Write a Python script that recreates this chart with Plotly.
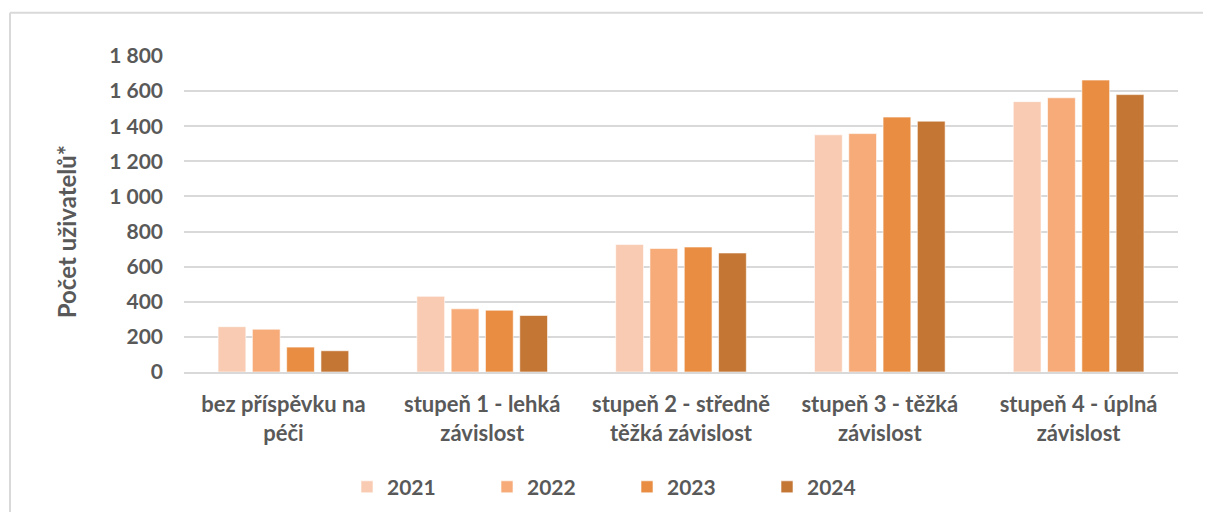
import plotly.graph_objects as go

categories = [
    "bez příspěvku na<br>péči",
    "stupeň 1 - lehká<br>závislost",
    "stupeň 2 - středně<br>těžká závislost",
    "stupeň 3 - těžká<br>závislost",
    "stupeň 4 - úplná<br>závislost",
]
years = ["2021", "2022", "2023", "2024"]
values_2021 = [258, 431, 726, 1351, 1540]
values_2022 = [244, 360, 704, 1358, 1562]
values_2023 = [142, 352, 712, 1452, 1663]
values_2024 = [121, 322, 678, 1429, 1580]
y_ticks = [0, 200, 400, 600, 800, 1000, 1200, 1400, 1600, 1800]

colors = ["#F8CBB2", "#F6AB79", "#E88D42", "#C47634"]
text_color = "#595959"
grid_color = "#D9D9D9"

fig = go.Figure()
for year, vals, col in zip(years, [values_2021, values_2022, values_2023, values_2024], colors):
    fig.add_trace(go.Bar(
        x=categories,
        y=vals,
        name=year,
        marker=dict(color=col, line=dict(color="rgba(255,255,255,0.6)", width=1)),
    ))

# the page body adds an 8px offset, so plot area in figure px: x 176..1170, y 48..369
L, R, T, B = 176, 41, 48, 143
pw, ph = 1211 - L - R, 512 - T - B

fig.update_layout(
    width=1211,
    height=512,
    margin=dict(l=L, r=R, t=T, b=B),
    paper_bgcolor="white",
    plot_bgcolor="white",
    barmode="group",
    bargap=0.31,
    bargroupgap=0.19,
    separators=", ",
    font=dict(family="Lato", size=21, color=text_color, weight="bold"),
    legend=dict(
        orientation="h",
        x=(339 - L) / pw, xanchor="left",
        y=(T + ph - 486) / ph, yanchor="middle",
        entrywidth=95,
        font=dict(size=21, color=text_color, weight="bold"),
    ),
    showlegend=True,
)

fig.update_yaxes(
    range=[0, 1800],
    tickvals=y_ticks,
    tickformat=",",
    showgrid=True,
    gridcolor=grid_color,
    gridwidth=2,
    zeroline=False,
    showline=False,
    ticklabelstandoff=20,
    tickfont=dict(size=21, color=text_color, weight="bold"),
)
fig.update_xaxes(
    showline=True,
    linecolor=grid_color,
    linewidth=2,
    showgrid=False,
    ticks="",
    tickfont=dict(size=22, color=text_color, weight="bold"),
    ticklabelstandoff=12,
)

# y axis title, sitting a bit below the axis middle as in the source
fig.add_annotation(
    text="Počet uživatelů*",
    textangle=-90,
    xref="paper", yref="paper",
    x=(58 - L) / pw, y=(T + ph - 227) / ph,
    xanchor="center", yanchor="middle",
    showarrow=False,
    font=dict(size=24, color=text_color, weight="bold"),
)

# outer chart frame (top and left edges visible in the crop)
top_y = (T + ph - 4) / ph
left_x = (2 - L) / pw
fig.add_shape(type="line", xref="paper", yref="paper",
              x0=left_x, x1=(1215 - L) / pw, y0=top_y, y1=top_y,
              line=dict(color=grid_color, width=2))
fig.add_shape(type="line", xref="paper", yref="paper",
              x0=left_x, x1=left_x, y0=top_y, y1=(T + ph - 520) / ph,
              line=dict(color=grid_color, width=2))

fig.write_html("out.html")
